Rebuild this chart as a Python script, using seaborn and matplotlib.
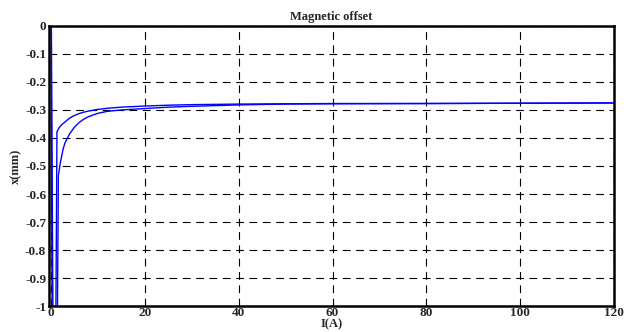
import numpy as np
import pandas as pd
import matplotlib
matplotlib.use("Agg")
import matplotlib.pyplot as plt
import seaborn as sns

# current I(A) and offset x(mm)
upper_i = [0, 0.35, 0.9, 1.3, 1.6, 2, 2.5, 3, 4, 5, 6, 7, 8, 10, 12, 15, 20, 25, 30,
           40, 60, 80, 100, 120]
upper_x = [0.3, -1.5, -1.5, -0.378, -0.368, -0.358, -0.35, -0.343, -0.329, -0.32,
           -0.313, -0.308, -0.304, -0.298, -0.294, -0.29, -0.286, -0.283, -0.281,
           -0.279, -0.277, -0.277, -0.276, -0.275]

lower_i = [0, 0.6, 1.2, 1.6, 2, 2.6, 3, 4, 5, 6, 7, 8, 10, 12, 15, 20, 25, 30, 40, 50,
           60, 80, 100, 120]
lower_x = [0.3, -1.5, -1.5, -0.535, -0.49, -0.44, -0.418, -0.385, -0.362, -0.345,
           -0.333, -0.324, -0.312, -0.305, -0.30, -0.295, -0.29, -0.287, -0.282,
           -0.279, -0.278, -0.277, -0.276, -0.275]

x_ticks = [0, 20, 40, 60, 80, 100, 120]
y_ticks = [0, -0.1, -0.2, -0.3, -0.4, -0.5, -0.6, -0.7, -0.8, -0.9, -1]

sns.set_style("white")
plt.rcParams['font.family'] = ['Liberation Serif', 'DejaVu Serif']
plt.rcParams['font.weight'] = 'bold'

fig = plt.figure(figsize=(6.28, 3.32), dpi=100)
ax = fig.add_axes([0.078, 0.078, 0.900, 0.844])

df_up = pd.DataFrame({'I': upper_i, 'x': upper_x})
df_lo = pd.DataFrame({'I': lower_i, 'x': lower_x})
sns.lineplot(data=df_up, x='I', y='x', color='blue', lw=1.0, estimator=None, sort=False, ax=ax)
sns.lineplot(data=df_lo, x='I', y='x', color='blue', lw=1.0, estimator=None, sort=False, ax=ax)

ax.set_xlim(-0.4, 120)
ax.set_ylim(-1, 0)
ax.set_xticks(x_ticks)
ax.set_yticks(y_ticks)
ax.set_xticklabels([str(t) for t in x_ticks], fontsize=9.5, fontweight='bold')
ax.set_yticklabels(['0' if t == 0 else ('-1' if t == -1 else f"{t:.1f}") for t in y_ticks],
                   fontsize=9.5, fontweight='bold')
ax.tick_params(direction='in', length=3, width=1, pad=2)
ax.tick_params(axis='x', pad=1)
ax.grid(True, color='black', linestyle=(0, (7, 5)), linewidth=0.8)

for s in ax.spines.values():
    s.set_color('black')
    s.set_linewidth(1.8)

ax.set_title('Magnetic offset', fontsize=9, fontweight='bold', pad=4)
ax.set_xlabel('I(A)', fontsize=9, fontweight='bold', labelpad=-1)
ax.set_ylabel('x(mm)', fontsize=9, fontweight='bold', labelpad=2)

fig.savefig('out.png', dpi=100)
